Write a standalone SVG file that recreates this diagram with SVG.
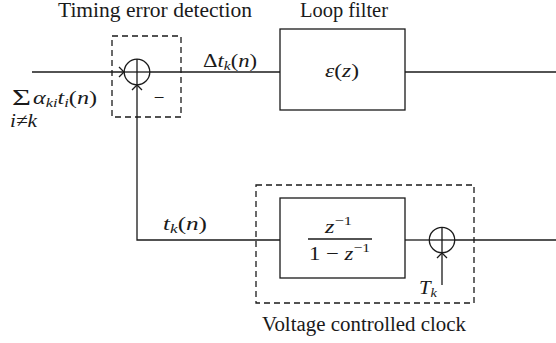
<svg xmlns="http://www.w3.org/2000/svg" width="556" height="343" viewBox="0 0 556 343">
<style>
.ln{fill:none;stroke:#1a1a1a;stroke-width:1.3}
.dash{fill:none;stroke:#1a1a1a;stroke-width:1.3;stroke-dasharray:6,4}
text{font-family:"Liberation Serif","Times New Roman","DejaVu Serif",serif;fill:#1a1a1a}
.t{font-size:20px}
.m{font-style:italic;font-size:19px}
.r{font-size:19px}
.up{font-style:normal}
.s{font-size:13px}
</style>
<rect width="556" height="343" fill="#fff"/>
<g id="connectors">
<line class="ln" x1="32" y1="72" x2="124" y2="72"/>
<polyline class="ln" points="119,67 124,72 119,77"/>
<line class="ln" x1="150" y1="72" x2="280" y2="72"/>
<line class="ln" x1="405" y1="72" x2="556" y2="72"/>
<polyline class="ln" points="280,240 137,240 137,85"/>
<polyline class="ln" points="132,90 137,85 142,90"/>
<line class="ln" x1="405" y1="240" x2="429" y2="240"/>
<line class="ln" x1="455" y1="240" x2="556" y2="240"/>
<line class="ln" x1="442" y1="285" x2="442" y2="253"/>
<polyline class="ln" points="437,258 442,253 447,258"/>
</g>
<g id="ted">
<rect class="dash" x="112" y="36" width="69" height="81"/>
<circle class="ln" cx="137" cy="72" r="12.8"/>
<line class="ln" x1="124" y1="72" x2="150" y2="72"/>
<line class="ln" x1="137" y1="59" x2="137" y2="85"/>
<text class="r" x="159" y="104" text-anchor="middle">−</text>
<text class="t" x="155" y="17" text-anchor="middle" textLength="194" lengthAdjust="spacingAndGlyphs">Timing error detection</text>
</g>
<g id="input-label">
<text x="12" y="105" font-size="24" textLength="19" lengthAdjust="spacingAndGlyphs">Σ</text>
<text class="m" x="33" y="104" textLength="64" lengthAdjust="spacingAndGlyphs">α<tspan class="s" dy="3">ki</tspan><tspan dy="-3">t</tspan><tspan class="s" dy="3">i</tspan><tspan class="up" dy="-3">(</tspan>n<tspan class="up">)</tspan></text>
<text class="m" x="10" y="127" font-size="12" textLength="27" lengthAdjust="spacingAndGlyphs">i≠k</text>
</g>
<g id="dtk-label">
<text class="m" x="203" y="67" textLength="54" lengthAdjust="spacingAndGlyphs"><tspan class="up">Δ</tspan>t<tspan class="s" dy="3">k</tspan><tspan class="up" dy="-3">(</tspan>n<tspan class="up">)</tspan></text>
</g>
<g id="loopfilter">
<rect class="ln" x="280" y="29" width="125" height="81"/>
<text class="t" x="344" y="17" text-anchor="middle" textLength="88" lengthAdjust="spacingAndGlyphs">Loop filter</text>
<text class="m" x="342" y="77" text-anchor="middle" font-size="21" textLength="34" lengthAdjust="spacingAndGlyphs">ε<tspan class="up">(</tspan>z<tspan class="up">)</tspan></text>
</g>
<g id="tk-label">
<text class="m" x="163" y="230" textLength="44" lengthAdjust="spacingAndGlyphs">t<tspan class="s" dy="3">k</tspan><tspan class="up" dy="-3">(</tspan>n<tspan class="up">)</tspan></text>
</g>
<g id="vcc">
<rect class="dash" x="256" y="185" width="218" height="118"/>
<rect class="ln" x="280" y="198" width="125" height="80"/>
<text class="m" x="325" y="233" font-size="20" textLength="27" lengthAdjust="spacingAndGlyphs">z<tspan class="up s" dy="-8">−1</tspan></text>
<line class="ln" x1="308" y1="239" x2="372" y2="239"/>
<text class="m" x="309" y="260" textLength="61" lengthAdjust="spacingAndGlyphs"><tspan class="up">1 − </tspan>z<tspan class="up s" dy="-8">−1</tspan></text>
<circle class="ln" cx="442" cy="240" r="12.7"/>
<line class="ln" x1="429" y1="240" x2="455" y2="240"/>
<line class="ln" x1="442" y1="227" x2="442" y2="253"/>
<text class="m" x="419" y="294" textLength="18" lengthAdjust="spacingAndGlyphs">T<tspan class="s" dy="3">k</tspan></text>
<text class="t" x="364" y="331" text-anchor="middle" textLength="204" lengthAdjust="spacingAndGlyphs">Voltage controlled clock</text>
</g>
</svg>
